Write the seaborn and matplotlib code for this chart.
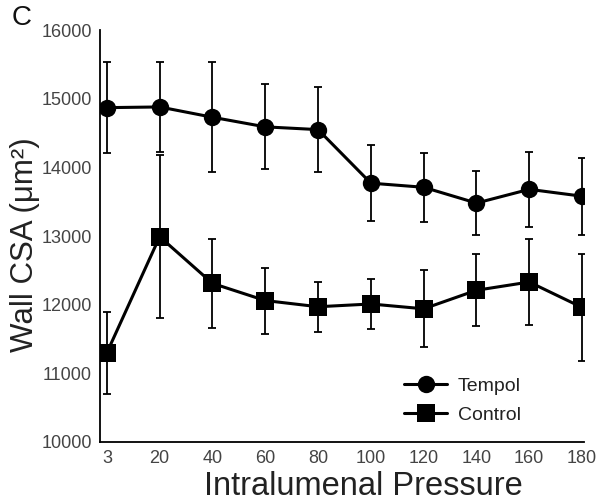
import numpy as np
import pandas as pd
import matplotlib
matplotlib.use("Agg")
import matplotlib.pyplot as plt
import seaborn as sns

pressures = ["3", "20", "40", "60", "80", "100", "120", "140", "160", "180"]
tempol_mean = [14870, 14880, 14730, 14590, 14550, 13770, 13710, 13480, 13680, 13580]
tempol_err = [660, 660, 800, 620, 620, 550, 500, 470, 550, 560]
control_mean = [11300, 12990, 12310, 12060, 11970, 12010, 11940, 12210, 12330, 11960]
control_err = [600, 1190, 650, 480, 365, 370, 560, 525, 620, 780]

sns.set_theme(style="white")
plt.rcParams['font.family'] = ['Liberation Sans', 'DejaVu Sans']

fig = plt.figure(figsize=(6.0, 5.01), dpi=100)
ax = fig.add_axes([0.1667, 0.1178, 0.806, 0.8222])

pos = np.arange(len(pressures))
df = pd.DataFrame({
    "pos": np.concatenate([pos, pos]),
    "value": tempol_mean + control_mean,
    "group": ["Tempol"] * len(pos) + ["Control"] * len(pos),
})

for mean, err in [(tempol_mean, tempol_err), (control_mean, control_err)]:
    ax.errorbar(pos, mean, yerr=err, fmt="none", ecolor="black",
                elinewidth=1.3, capsize=3, capthick=1.3, zorder=2)

sns.lineplot(data=df, x="pos", y="value", hue="group", style="group",
             markers={"Tempol": "o", "Control": "s"}, dashes=False,
             palette={"Tempol": "black", "Control": "black"},
             markersize=12.5, linewidth=2.2, markeredgewidth=0,
             ax=ax, zorder=3)

ax.set_xlim(-0.13, 9.03)
ax.set_ylim(10000, 16000)
ax.set_xticks(pos)
ax.set_xticklabels(pressures)
ax.set_yticks(np.arange(10000, 16001, 1000))
ax.tick_params(axis="both", length=0, labelsize=13, colors="#444444", pad=6)
for s in ["top", "right"]:
    ax.spines[s].set_visible(False)
for s in ["left", "bottom"]:
    ax.spines[s].set_color("black")
    ax.spines[s].set_linewidth(1.3)

ax.set_xlabel("Intralumenal Pressure", fontsize=23.5, color="#222222")
ax.xaxis.label.set_verticalalignment("baseline")
ax.xaxis.set_label_coords(0.545, -0.1286)
ax.set_ylabel("Wall CSA (μm²)", fontsize=22.5, color="#222222")
ax.yaxis.set_label_coords(-0.125, 0.478)

leg = ax.legend(loc="lower right", bbox_to_anchor=(0.894, 0.015), frameon=False,
                fontsize=14, handlelength=2.2, handletextpad=0.55,
                labelcolor="#222222", borderaxespad=0.2, labelspacing=0.6)

fig.text(0.02, 0.99, "C", fontsize=20, va="top", ha="left", color="#111111")

fig.savefig("out.png", dpi=100)
